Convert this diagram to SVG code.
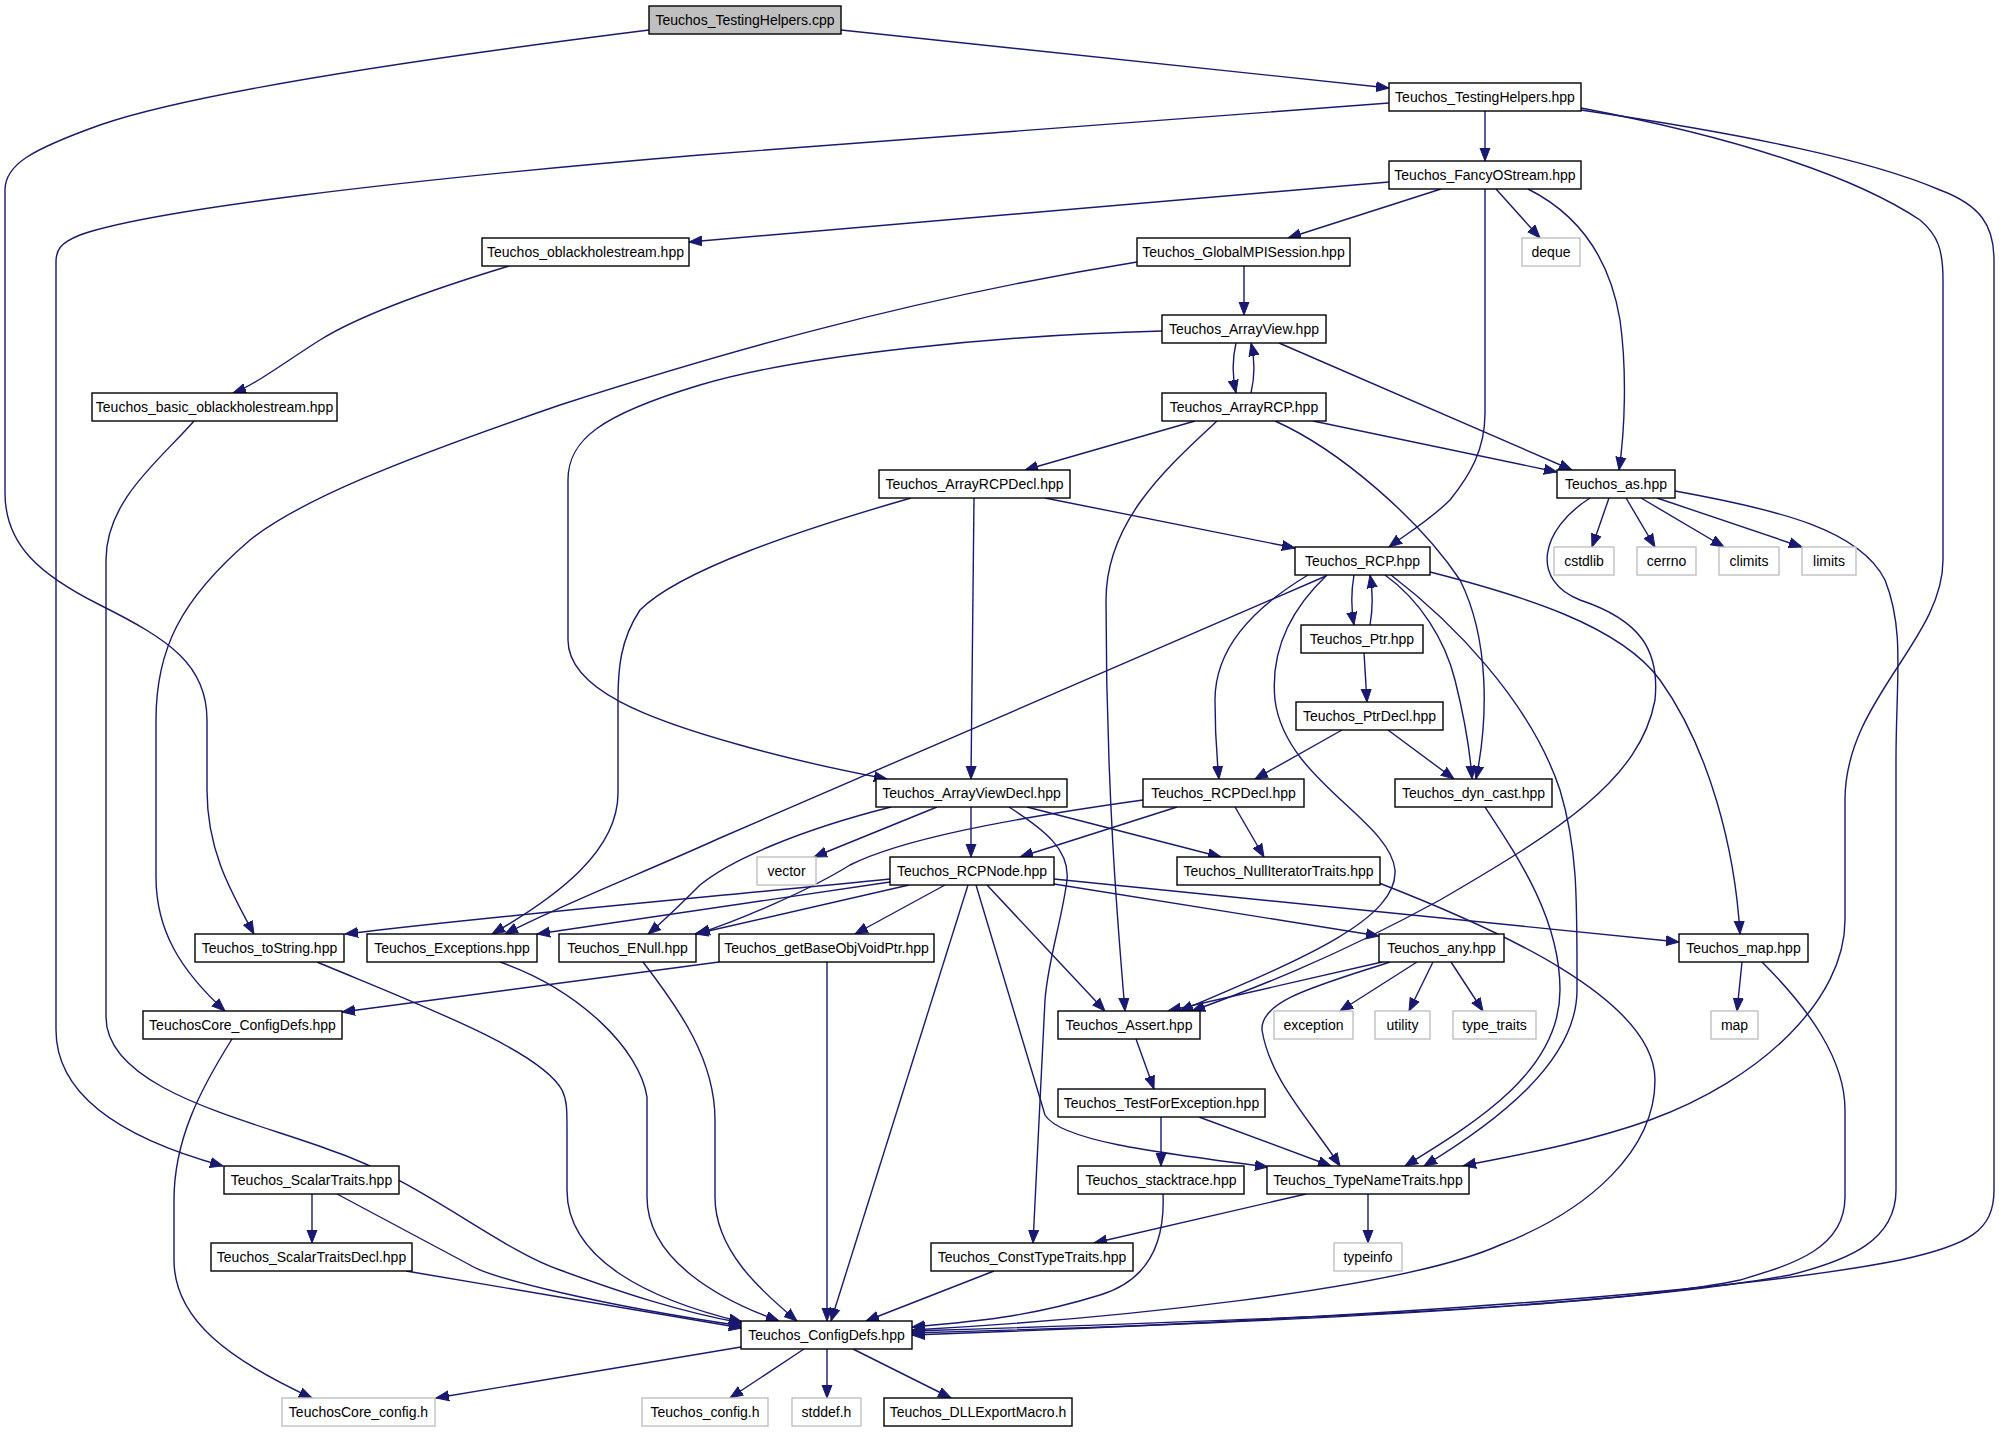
<svg xmlns="http://www.w3.org/2000/svg" width="2000" height="1432" viewBox="0 0 2000 1432">
<style>
.n rect{fill:#ffffff;stroke:#000000;stroke-width:1.4}
.g rect{fill:#ffffff;stroke:#c0c0c0;stroke-width:1.4}
.r rect{fill:#bfbfbf;stroke:#000000;stroke-width:1.4}
text{font-family:"Liberation Sans",Arial,sans-serif;font-size:14px;fill:#000000;text-anchor:middle}
.e path{fill:none;stroke:#191970;stroke-width:1.4;marker-end:url(#a)}
</style>
<defs>
<marker id="a" markerUnits="userSpaceOnUse" markerWidth="14" markerHeight="12" viewBox="0 0 14 12" refX="13" refY="6" orient="auto"><path d="M0,1 L13,6 L0,11 z" fill="#191970" stroke="#191970" stroke-width="1"/></marker>
</defs>
<rect width="2000" height="1432" fill="#ffffff"/>
<g class="e" id="edges">
<path d="M841,30 L1389,88"/>
<path d="M649,30 C450,55 200,90 100,125 C30,150 5,165 5,190 L5,493 C5,545 40,575 100,605 C170,640 207,665 207,720 L207,790 C207,850 230,890 254,934"/>
<path d="M1485,111 L1485,161"/>
<path d="M1389,103 L700,155 C400,180 150,210 80,235 C60,243 56,250 56,262 L56,1030 C56,1090 110,1135 223,1166"/>
<path d="M1581,108 C1750,140 1860,180 1920,220 C1938,235 1943,250 1943,280 L1943,560 C1943,640 1845,700 1845,800 L1845,920 C1845,1000 1760,1080 1650,1120 C1580,1145 1500,1158 1463,1166"/>
<path d="M1581,110 C1750,135 1870,160 1940,190 C1980,205 1994,225 1994,260 L1994,1190 C1994,1230 1970,1245 1900,1260 C1700,1300 1200,1325 912,1335"/>
<path d="M1389,182 L689,242"/>
<path d="M1441,189 L1288,238"/>
<path d="M1485,189 L1485,413 C1485,450 1470,475 1450,500 C1430,520 1405,535 1389,547"/>
<path d="M1496,189 L1540,238"/>
<path d="M1528,189 C1580,215 1610,260 1620,320 C1627,370 1625,430 1619,470"/>
<path d="M509,266 C430,290 360,315 320,340 C285,362 255,385 233,393"/>
<path d="M194,421 C160,460 106,500 106,560 L106,1017 C106,1090 250,1120 330,1150 C420,1180 500,1250 560,1270 C620,1292 680,1312 742,1323"/>
<path d="M1244,266 L1244,315"/>
<path d="M1137,262 C900,300 700,360 560,405 C400,460 300,500 250,540 C180,600 156,650 156,720 L156,877 C156,930 180,970 225,1011"/>
<path d="M1236,343 C1232,360 1232,375 1236,393"/>
<path d="M1251,393 C1255,376 1255,360 1251,343"/>
<path d="M1162,331 C1000,335 800,355 700,385 C600,415 568,440 568,480 L568,640 C568,690 650,720 740,745 C800,762 850,772 887,779"/>
<path d="M1279,343 L1572,470"/>
<path d="M1195,421 L1025,470"/>
<path d="M1217,421 C1170,465 1106,520 1106,600 C1106,800 1120,950 1125,1011"/>
<path d="M1313,421 L1557,472"/>
<path d="M1275,421 C1340,450 1420,520 1460,580 C1490,640 1488,720 1476,779"/>
<path d="M911,498 C800,530 680,570 640,610 C620,640 618,670 618,700 L618,793 C618,850 560,895 492,934"/>
<path d="M974,498 L971,779"/>
<path d="M1045,498 L1295,548"/>
<path d="M1609,498 L1592,547"/>
<path d="M1626,498 L1655,547"/>
<path d="M1641,498 L1724,547"/>
<path d="M1657,498 L1802,547"/>
<path d="M1590,498 C1540,530 1530,580 1580,600 C1640,620 1660,650 1655,700 C1640,780 1560,830 1440,900 C1330,960 1250,990 1192,1011"/>
<path d="M1675,491 C1780,510 1860,530 1885,580 C1905,630 1896,680 1896,760 L1896,1190 C1896,1240 1850,1260 1790,1275 C1600,1310 1200,1325 912,1333"/>
<path d="M1327,575 C1290,610 1270,650 1275,700 C1285,780 1390,820 1395,870 C1398,920 1300,960 1180,1011"/>
<path d="M1326,576 L720,838 C650,870 560,905 505,934"/>
<path d="M1308,575 C1250,610 1215,650 1215,700 C1215,740 1217,760 1219,779"/>
<path d="M1354,575 C1351,592 1351,608 1354,625"/>
<path d="M1370,625 C1373,608 1373,592 1370,575"/>
<path d="M1385,575 C1420,600 1445,640 1455,680 C1465,720 1470,750 1472,779"/>
<path d="M1391,575 C1450,620 1530,700 1560,790 C1578,850 1577,900 1577,990 C1577,1060 1500,1120 1424,1166"/>
<path d="M1430,572 C1520,595 1620,625 1660,680 C1710,750 1735,850 1740,934"/>
<path d="M1364,653 L1367,702"/>
<path d="M1342,730 L1255,779"/>
<path d="M1388,730 L1454,779"/>
<path d="M1485,807 C1520,860 1560,920 1560,990 C1560,1070 1480,1120 1405,1166"/>
<path d="M937,807 L814,857"/>
<path d="M971,807 L971,857"/>
<path d="M891,807 C800,830 730,860 700,885 C680,905 665,920 648,934"/>
<path d="M1027,807 L1221,857"/>
<path d="M1009,807 C1045,830 1070,850 1067,880 C1062,920 1048,960 1045,1000 C1040,1100 1036,1180 1033,1243"/>
<path d="M1143,800 C1000,820 900,840 850,865 C810,890 740,920 697,934"/>
<path d="M1177,807 L1020,857"/>
<path d="M1235,807 L1264,857"/>
<path d="M890,879 C700,898 500,915 345,934"/>
<path d="M890,882 L537,934"/>
<path d="M909,885 L695,934"/>
<path d="M945,885 L855,934"/>
<path d="M968,885 L831,1321"/>
<path d="M976,885 L1045,1115 C1060,1140 1150,1152 1268,1167"/>
<path d="M987,885 L1105,1011"/>
<path d="M1054,884 L1379,936"/>
<path d="M1054,879 L1679,942"/>
<path d="M1379,883 C1500,930 1655,1000 1655,1080 C1655,1150 1590,1210 1500,1245 C1400,1290 1100,1320 912,1330"/>
<path d="M317,962 C420,1005 540,1050 562,1090 C567,1100 567,1110 567,1130 L567,1190 C567,1260 650,1300 742,1322"/>
<path d="M500,962 C580,990 640,1050 647,1097 L647,1197 C647,1260 720,1300 779,1321"/>
<path d="M643,962 C680,1010 715,1060 715,1120 L715,1197 C715,1250 760,1290 797,1321"/>
<path d="M827,962 L827,1321"/>
<path d="M719,962 L342,1012"/>
<path d="M1417,962 L1340,1011"/>
<path d="M1433,962 L1409,1011"/>
<path d="M1451,962 L1483,1011"/>
<path d="M1382,962 L1168,1011"/>
<path d="M1390,962 C1320,985 1260,1000 1262,1030 C1270,1080 1310,1120 1340,1166"/>
<path d="M1742,962 L1737,1011"/>
<path d="M1762,962 C1810,1010 1845,1060 1845,1110 L1845,1197 C1845,1250 1790,1265 1740,1280 C1600,1310 1200,1322 912,1331"/>
<path d="M232,1039 C200,1090 174,1140 174,1200 L174,1260 C174,1320 230,1360 312,1398"/>
<path d="M1136,1039 L1154,1089"/>
<path d="M1161,1117 L1161,1166"/>
<path d="M1199,1117 L1331,1166"/>
<path d="M1163,1194 C1165,1240 1150,1280 1100,1295 C1020,1320 960,1322 912,1327"/>
<path d="M1306,1194 L1094,1243"/>
<path d="M1368,1194 L1368,1243"/>
<path d="M994,1271 L866,1321"/>
<path d="M312,1194 L312,1243"/>
<path d="M337,1194 L470,1265 C490,1278 600,1305 742,1326"/>
<path d="M406,1271 L742,1328"/>
<path d="M741,1347 L436,1398"/>
<path d="M804,1349 L730,1398"/>
<path d="M827,1349 L827,1398"/>
<path d="M853,1349 L951,1398"/>
</g>
<g id="n_cpp" class="r"><rect x="649" y="6" width="192" height="28"/><text x="745" y="25">Teuchos_TestingHelpers.cpp</text></g>
<g id="n_th" class="n"><rect x="1389" y="83" width="192" height="28"/><text x="1485" y="102">Teuchos_TestingHelpers.hpp</text></g>
<g id="n_fancy" class="n"><rect x="1389" y="161" width="192" height="28"/><text x="1485" y="180">Teuchos_FancyOStream.hpp</text></g>
<g id="n_obh" class="n"><rect x="482" y="238" width="207" height="28"/><text x="585.5" y="257">Teuchos_oblackholestream.hpp</text></g>
<g id="n_gmpi" class="n"><rect x="1137" y="238" width="213" height="28"/><text x="1243.5" y="257">Teuchos_GlobalMPISession.hpp</text></g>
<g id="n_deque" class="g"><rect x="1522" y="238" width="58" height="28"/><text x="1551" y="257">deque</text></g>
<g id="n_av" class="n"><rect x="1162" y="315" width="164" height="28"/><text x="1244" y="334">Teuchos_ArrayView.hpp</text></g>
<g id="n_basic" class="n"><rect x="92" y="393" width="245" height="28"/><text x="214.5" y="412">Teuchos_basic_oblackholestream.hpp</text></g>
<g id="n_arcp" class="n"><rect x="1162" y="393" width="164" height="28"/><text x="1244" y="412">Teuchos_ArrayRCP.hpp</text></g>
<g id="n_arcpdecl" class="n"><rect x="879" y="470" width="191" height="28"/><text x="974.5" y="489">Teuchos_ArrayRCPDecl.hpp</text></g>
<g id="n_as" class="n"><rect x="1557" y="470" width="118" height="28"/><text x="1616" y="489">Teuchos_as.hpp</text></g>
<g id="n_rcp" class="n"><rect x="1295" y="547" width="135" height="28"/><text x="1362.5" y="566">Teuchos_RCP.hpp</text></g>
<g id="n_cstdlib" class="g"><rect x="1554" y="547" width="60" height="28"/><text x="1584" y="566">cstdlib</text></g>
<g id="n_cerrno" class="g"><rect x="1637" y="547" width="59" height="28"/><text x="1666.5" y="566">cerrno</text></g>
<g id="n_climits" class="g"><rect x="1719" y="547" width="60" height="28"/><text x="1749" y="566">climits</text></g>
<g id="n_limits" class="g"><rect x="1802" y="547" width="54" height="28"/><text x="1829" y="566">limits</text></g>
<g id="n_ptr" class="n"><rect x="1301" y="625" width="122" height="28"/><text x="1362" y="644">Teuchos_Ptr.hpp</text></g>
<g id="n_ptrdecl" class="n"><rect x="1296" y="702" width="147" height="28"/><text x="1369.5" y="721">Teuchos_PtrDecl.hpp</text></g>
<g id="n_avdecl" class="n"><rect x="876" y="779" width="191" height="28"/><text x="971.5" y="798">Teuchos_ArrayViewDecl.hpp</text></g>
<g id="n_rcpdecl" class="n"><rect x="1143" y="779" width="161" height="28"/><text x="1223.5" y="798">Teuchos_RCPDecl.hpp</text></g>
<g id="n_dyn" class="n"><rect x="1395" y="779" width="157" height="28"/><text x="1473.5" y="798">Teuchos_dyn_cast.hpp</text></g>
<g id="n_vector" class="g"><rect x="757" y="857" width="59" height="28"/><text x="786.5" y="876">vector</text></g>
<g id="n_rcpnode" class="n"><rect x="890" y="857" width="164" height="28"/><text x="972" y="876">Teuchos_RCPNode.hpp</text></g>
<g id="n_nit" class="n"><rect x="1177" y="857" width="203" height="28"/><text x="1278.5" y="876">Teuchos_NullIteratorTraits.hpp</text></g>
<g id="n_tostring" class="n"><rect x="195" y="934" width="149" height="28"/><text x="269.5" y="953">Teuchos_toString.hpp</text></g>
<g id="n_exc" class="n"><rect x="367" y="934" width="170" height="28"/><text x="452" y="953">Teuchos_Exceptions.hpp</text></g>
<g id="n_enull" class="n"><rect x="559" y="934" width="137" height="28"/><text x="627.5" y="953">Teuchos_ENull.hpp</text></g>
<g id="n_getbase" class="n"><rect x="719" y="934" width="215" height="28"/><text x="826.5" y="953">Teuchos_getBaseObjVoidPtr.hpp</text></g>
<g id="n_any" class="n"><rect x="1379" y="934" width="125" height="28"/><text x="1441.5" y="953">Teuchos_any.hpp</text></g>
<g id="n_maphpp" class="n"><rect x="1679" y="934" width="129" height="28"/><text x="1743.5" y="953">Teuchos_map.hpp</text></g>
<g id="n_tccd" class="n"><rect x="143" y="1011" width="199" height="28"/><text x="242.5" y="1030">TeuchosCore_ConfigDefs.hpp</text></g>
<g id="n_assert" class="n"><rect x="1058" y="1011" width="142" height="28"/><text x="1129" y="1030">Teuchos_Assert.hpp</text></g>
<g id="n_exception" class="g"><rect x="1274" y="1011" width="79" height="28"/><text x="1313.5" y="1030">exception</text></g>
<g id="n_utility" class="g"><rect x="1375" y="1011" width="55" height="28"/><text x="1402.5" y="1030">utility</text></g>
<g id="n_typetraits" class="g"><rect x="1453" y="1011" width="83" height="28"/><text x="1494.5" y="1030">type_traits</text></g>
<g id="n_map" class="g"><rect x="1711" y="1011" width="47" height="28"/><text x="1734.5" y="1030">map</text></g>
<g id="n_tfe" class="n"><rect x="1058" y="1089" width="207" height="28"/><text x="1161.5" y="1108">Teuchos_TestForException.hpp</text></g>
<g id="n_scalar" class="n"><rect x="224" y="1166" width="175" height="28"/><text x="311.5" y="1185">Teuchos_ScalarTraits.hpp</text></g>
<g id="n_stack" class="n"><rect x="1078" y="1166" width="166" height="28"/><text x="1161" y="1185">Teuchos_stacktrace.hpp</text></g>
<g id="n_tnt" class="n"><rect x="1267" y="1166" width="202" height="28"/><text x="1368" y="1185">Teuchos_TypeNameTraits.hpp</text></g>
<g id="n_scalardecl" class="n"><rect x="211" y="1243" width="201" height="28"/><text x="311.5" y="1262">Teuchos_ScalarTraitsDecl.hpp</text></g>
<g id="n_ctt" class="n"><rect x="931" y="1243" width="202" height="28"/><text x="1032" y="1262">Teuchos_ConstTypeTraits.hpp</text></g>
<g id="n_typeinfo" class="g"><rect x="1334" y="1243" width="68" height="28"/><text x="1368" y="1262">typeinfo</text></g>
<g id="n_cd" class="n"><rect x="741" y="1321" width="171" height="28"/><text x="826.5" y="1340">Teuchos_ConfigDefs.hpp</text></g>
<g id="n_tcconfig" class="g"><rect x="282" y="1398" width="153" height="28"/><text x="358.5" y="1417">TeuchosCore_config.h</text></g>
<g id="n_tconfig" class="g"><rect x="642" y="1398" width="126" height="28"/><text x="705" y="1417">Teuchos_config.h</text></g>
<g id="n_stddef" class="g"><rect x="792" y="1398" width="69" height="28"/><text x="826.5" y="1417">stddef.h</text></g>
<g id="n_dll" class="n"><rect x="884" y="1398" width="188" height="28"/><text x="978" y="1417">Teuchos_DLLExportMacro.h</text></g>
</svg>
